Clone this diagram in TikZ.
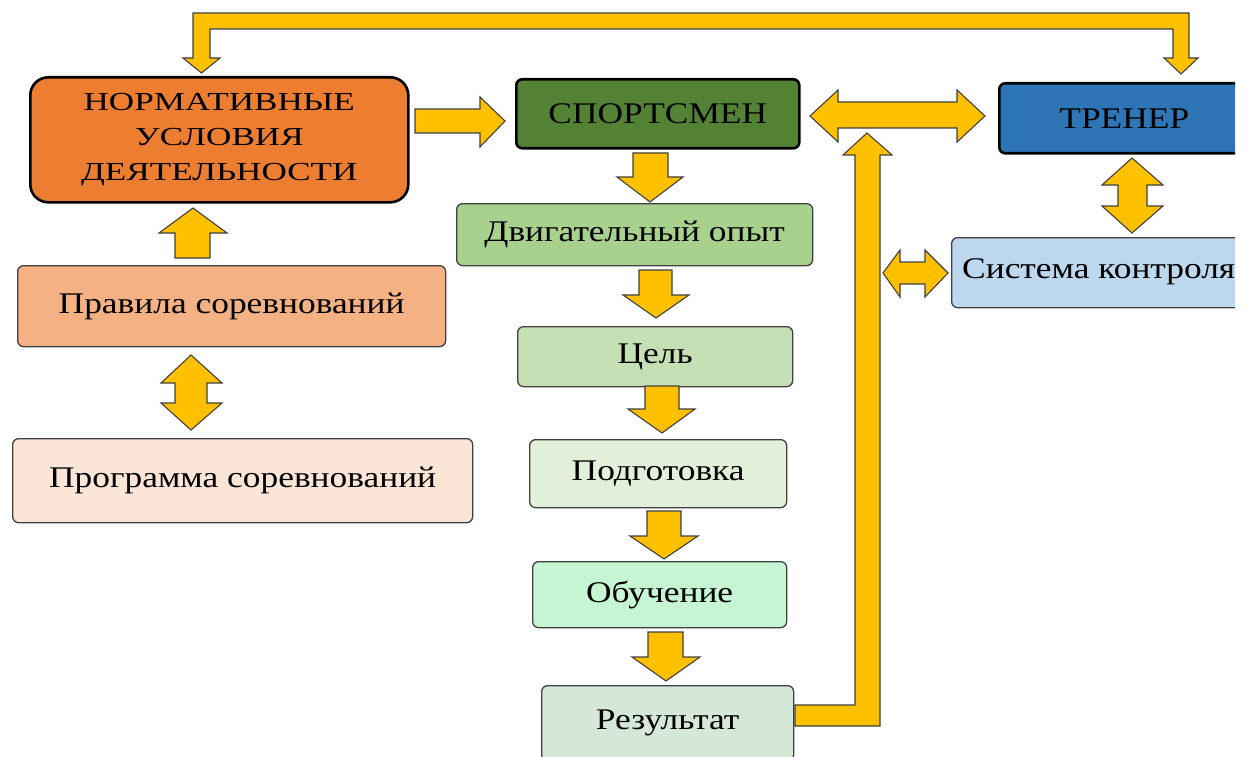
\documentclass[tikz,border=0pt]{standalone}
\usepackage{fontspec}
\setmainfont{Liberation Serif}
\newfontfamily\bodyf[FakeStretch=1.18]{Liberation Serif}
\newfontfamily\normf[FakeStretch=1.35]{Liberation Serif}
\definecolor{cNorm}{HTML}{ED7D31}
\definecolor{cSport}{HTML}{548235}
\definecolor{cTrener}{HTML}{2E75B6}
\definecolor{cPrav}{HTML}{F4B183}
\definecolor{cProg}{HTML}{FBE5D6}
\definecolor{cDvig}{HTML}{A9D18E}
\definecolor{cCel}{HTML}{C5E0B4}
\definecolor{cPodg}{HTML}{E2F0D9}
\definecolor{cObuch}{HTML}{C5F5D3}
\definecolor{cRez}{HTML}{D5E8D8}
\definecolor{cSist}{HTML}{BDD7EE}
\definecolor{cArrow}{HTML}{FFC000}
\definecolor{cEdge}{HTML}{404040}
\begin{document}
\begin{tikzpicture}[x=1pt,y=-1pt,
  box/.style={draw=cEdge, line width=1.3pt, rounded corners=6pt, inner sep=0pt,
    anchor=north west, text=black, font=\bodyf\fontsize{30}{35}\selectfont},
  mainbox/.style={box, draw=black, line width=2.6pt},
  barrow/.style={fill=cArrow, draw=cEdge, line width=1.1pt, line join=miter}]
\useasboundingbox (0,0) rectangle (1248,757);
\fill[white] (0,0) rectangle (1248,757);
\clip (0,0) rectangle (1235,757);

% nodes
\node[mainbox, fill=cNorm, rounded corners=18pt, minimum width=378pt, minimum height=125pt,
  align=center, font=\normf\fontsize{26}{35}\selectfont] (norm) at (29,76)
  {НОРМАТИВНЫЕ\\УСЛОВИЯ\\ДЕЯТЕЛЬНОСТИ};
\node[mainbox, fill=cSport, minimum width=283pt, minimum height=69pt] (sport) at (515,78) {СПОРТСМЕН};
\node[mainbox, fill=cTrener, minimum width=250pt, minimum height=70pt] (trener) at (998,82) {ТРЕНЕР};
\node[box, fill=cPrav, minimum width=428pt, minimum height=81pt] (prav) at (17,265) {Правила соревнований};
\node[box, fill=cProg, minimum width=460pt, minimum height=84pt] (prog) at (12,438) {Программа соревнований};
\node[box, fill=cDvig, minimum width=356pt, minimum height=62pt] (dvig) at (456,203) {Двигательный опыт};
\node[box, fill=cCel, minimum width=275pt, minimum height=60pt] (cel) at (517,326) {Цель};
\node[box, fill=cPodg, minimum width=257pt, minimum height=68pt] (podg) at (529,439) {Подготовка};
\node[box, fill=cObuch, minimum width=254pt, minimum height=66pt] (obuch) at (532,561) {Обучение};
\node[box, fill=cRez, minimum width=252pt, minimum height=75pt] (rez) at (541,685) {Результат};
\node[box, fill=cSist, minimum width=320pt, minimum height=70pt] (sist) at (951,237) {};
\node[anchor=west, inner sep=0pt, font=\bodyf\fontsize{30}{35}\selectfont] (sisttext) at (962,272) {Система контроля};

% top bent double-headed arrow (norm <-> trener)
\filldraw[barrow] (193,58) -- (193,13) -- (1189,13) -- (1189,58) -- (1198,58) -- (1181,74)
  -- (1164,58) -- (1173,58) -- (1173,29) -- (210,29) -- (210,58) -- (220,58) -- (201.5,73)
  -- (183,58) -- cycle;
% norm -> sport
\filldraw[barrow] (415,109) -- (480,109) -- (480,97) -- (505,121) -- (480,147) -- (480,133) -- (415,133) -- cycle;
% sport <-> trener
\filldraw[barrow] (810,116) -- (838,90) -- (838,102) -- (957,102) -- (957,90) -- (985,116)
  -- (957,142) -- (957,128) -- (838,128) -- (838,142) -- cycle;
% rez -> up to the sport/trener link
\filldraw[barrow] (795,705) -- (855,705) -- (855,155) -- (843,155) -- (867,133) -- (892,155)
  -- (880,155) -- (880,726) -- (795,726) -- cycle;
% trener <-> sist
\filldraw[barrow] (1132,158) -- (1163,185) -- (1147,185) -- (1147,206) -- (1163,206) -- (1132,233)
  -- (1102,206) -- (1118,206) -- (1118,185) -- (1102,185) -- cycle;
% link <-> sist
\filldraw[barrow] (883,273) -- (900,250) -- (900,262) -- (925,262) -- (925,250) -- (948,273)
  -- (925,297) -- (925,284) -- (900,284) -- (900,297) -- cycle;
% prav -> norm
\filldraw[barrow] (175,258) -- (175,233) -- (159,233) -- (193,208) -- (227,233) -- (210,233) -- (210,258) -- cycle;
% prav <-> prog
\filldraw[barrow] (191,355) -- (222,383) -- (207,383) -- (207,403) -- (222,403) -- (191,430)
  -- (161,403) -- (175,403) -- (175,383) -- (161,383) -- cycle;
% chain down arrows
\filldraw[barrow] (633,153) -- (668,153) -- (668,177) -- (683,177) -- (650,202) -- (617,177) -- (633,177) -- cycle;
\filldraw[barrow] (639,270) -- (672,270) -- (672,295) -- (689,295) -- (656,318) -- (623,295) -- (639,295) -- cycle;
\filldraw[barrow] (645,386) -- (679,386) -- (679,409) -- (695,409) -- (662,433) -- (628,409) -- (645,409) -- cycle;
\filldraw[barrow] (647,511) -- (681,511) -- (681,536) -- (698,536) -- (664,559) -- (630,536) -- (647,536) -- cycle;
\filldraw[barrow] (648,632) -- (683,632) -- (683,657) -- (700,657) -- (666,681) -- (632,657) -- (648,657) -- cycle;
\end{tikzpicture}
\end{document}
